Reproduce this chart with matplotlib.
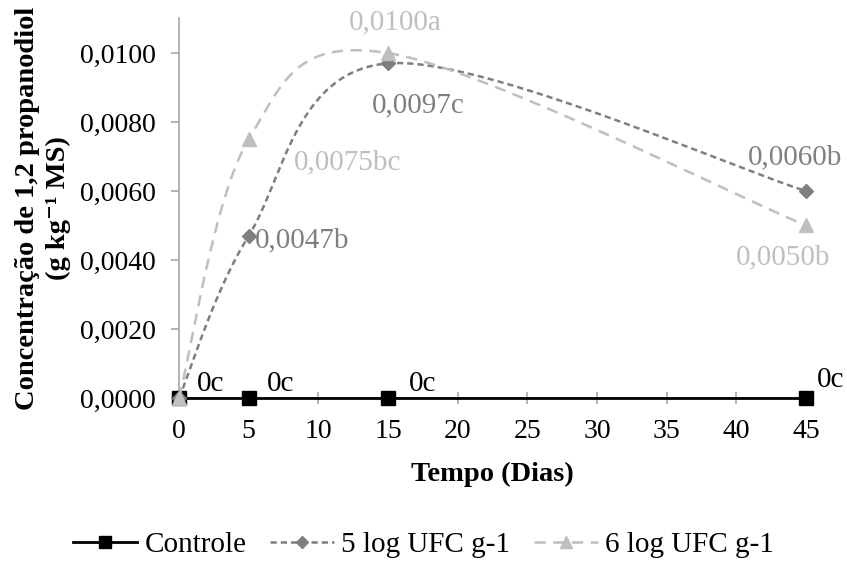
import numpy as np
import matplotlib
matplotlib.use("Agg")
import matplotlib.pyplot as plt
from matplotlib.lines import Line2D

# ---- data ----
days = [0, 5, 15, 45]
controle = [0.0, 0.0, 0.0, 0.0]
log5 = [0.0, 0.0047, 0.0097, 0.0060]
log6 = [0.0, 0.0075, 0.0100, 0.0050]
labels_controle = ["0c", "0c", "0c", "0c"]
labels_log5 = [None, "0,0047b", "0,0097c", "0,0060b"]
labels_log6 = [None, "0,0075bc", "0,0100a", "0,0050b"]
xticks = [0, 5, 10, 15, 20, 25, 30, 35, 40, 45]
yticks = [0.0, 0.002, 0.004, 0.006, 0.008, 0.010]

plt.rcParams['font.family'] = ['Liberation Serif', 'DejaVu Serif']

FS_TICK = 20
FS_LAB = 21
FS_TITLE = 20.5
C5 = "#7f7f7f"
C6 = "#bfbfbf"
AX = "#a6a6a6"


def smooth(xs, ys, n=80):
    """Catmull-Rom style Bezier smoothing (Excel-like)."""
    P = np.column_stack([xs, ys]).astype(float)
    out = []
    m = len(P)
    for i in range(m - 1):
        p0 = P[i - 1] if i > 0 else P[i]
        p1 = P[i]
        p2 = P[i + 1]
        p3 = P[i + 2] if i + 2 < m else P[i + 1]
        c1 = p1 + (p2 - p0) / 6.0
        c2 = p2 - (p3 - p1) / 6.0
        t = np.linspace(0, 1, n)[:, None]
        seg = ((1 - t) ** 3) * p1 + 3 * ((1 - t) ** 2) * t * c1 + 3 * (1 - t) * t ** 2 * c2 + t ** 3 * p2
        if i > 0:
            seg = seg[1:]
        out.append(seg)
    out = np.vstack(out)
    return out[:, 0], out[:, 1]


fig = plt.figure(figsize=(8.47, 5.61), dpi=100)
ax = fig.add_axes([179 / 847, 1 - 398 / 561, (806 - 179) / 847, (398 - 18.5) / 561])

LS5 = (0, (2.5, 1.6))
LS6 = (0, (4.5, 3))

# Controle
ax.plot(days, controle, color="black", lw=2.0, marker="s", ms=10, clip_on=False, zorder=3)
# 5 log
sx, sy = smooth(days, log5)
ax.plot(sx, sy, color=C5, lw=1.8, ls=LS5, clip_on=False, zorder=4)
ax.plot(days, log5, ls="none", color=C5, marker="D", ms=7.5, clip_on=False, zorder=4)
# 6 log
sx, sy = smooth(days, log6)
ax.plot(sx, sy, color=C6, lw=1.8, ls=LS6, clip_on=False, zorder=5)
ax.plot(days, log6, ls="none", color=C6, marker="^", ms=10, clip_on=False, zorder=5)

ax.set_xlim(0, 45)
ax.set_ylim(0, 0.011)
ax.set_xticks(xticks)
ax.set_xticklabels([str(v) for v in xticks], fontsize=FS_TICK)
ax.set_yticks(yticks)
ax.set_yticklabels([f"{v:.4f}".replace(".", ",") for v in yticks], fontsize=FS_TICK)

for s in ["top", "right"]:
    ax.spines[s].set_visible(False)
ax.spines["left"].set_color(AX)
ax.spines["bottom"].set_color(AX)
ax.spines["left"].set_linewidth(1.2)
ax.spines["bottom"].set_linewidth(1.2)
ax.tick_params(axis="y", direction="out", length=6, color=AX, width=1.2, pad=11)
ax.tick_params(axis="x", direction="inout", length=8, color=AX, width=1.2, pad=11)

ax.set_xlabel("Tempo (Dias)", fontsize=FS_TITLE, fontweight="bold", labelpad=13)
ax.set_ylabel("Concentração de 1,2 propanodiol\n(g kg⁻¹ MS)", fontsize=FS_TITLE,
              fontweight="bold", labelpad=6, linespacing=1.3)

# data labels (offsets in pixels)
off_ctrl = [(32, 14), (32, 14), (35, 14), (25, 18)]
for x, y, t, o in zip(days, controle, labels_controle, off_ctrl):
    ax.annotate(t, (x, y), xytext=o, textcoords="offset pixels", ha="center", va="center",
                fontsize=FS_LAB, color="black", annotation_clip=False)
off5 = [None, (53, -5), (30, -42), (-11, 34)]
for x, y, t, o in zip(days, log5, labels_log5, off5):
    if t:
        ax.annotate(t, (x, y), xytext=o, textcoords="offset pixels", ha="center", va="center",
                    fontsize=FS_LAB, color=C5, annotation_clip=False)
off6 = [None, (99, -23), (7, 31), (-23, -32)]
for x, y, t, o in zip(days, log6, labels_log6, off6):
    if t:
        ax.annotate(t, (x, y), xytext=o, textcoords="offset pixels", ha="center", va="center",
                    fontsize=FS_LAB, color=C6, annotation_clip=False)

handles = [
    Line2D([], [], color="black", lw=2.0, marker="s", ms=8),
    Line2D([], [], color=C5, lw=1.8, ls=LS5, marker="D", ms=6.5),
    Line2D([], [], color=C6, lw=1.8, ls=LS6, marker="^", ms=8),
]
fig.legend(handles, ["Controle", "5 log UFC g-1", "6 log UFC g-1"], loc="center",
           bbox_to_anchor=(0.5, 1 - 545 / 561), ncol=3, frameon=False, fontsize=FS_LAB,
           handlelength=2.2, handletextpad=0.25, columnspacing=0.8)

fig.savefig("out.png", dpi=100)
